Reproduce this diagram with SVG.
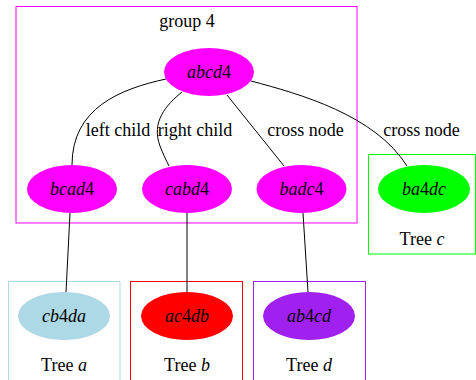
<svg xmlns="http://www.w3.org/2000/svg" width="476" height="380" viewBox="0 0 476 380">
<style>
text { font-family: "Liberation Serif", "Times New Roman", serif; font-size: 18px; fill: #000; text-anchor: middle; }
.i { font-style: italic; }
.cl { fill: none; stroke-width: 1; }
.edge { fill: none; stroke: #000; stroke-width: 1; }
</style>
<rect width="476" height="380" fill="#fff"/>

<!-- clusters -->
<g id="cluster_group4">
  <rect class="cl" x="16" y="6.5" width="341" height="216.5" stroke="#ff00ff"/>
  <text x="187" y="27">group 4</text>
</g>
<g id="cluster_treec">
  <rect class="cl" x="368.5" y="154.5" width="107" height="99.5" stroke="#00ff00"/>
  <text x="422" y="245">Tree <tspan class="i">c</tspan></text>
</g>
<g id="cluster_treea">
  <rect class="cl" x="8.5" y="281.5" width="111.5" height="110" stroke="#add8e6"/>
  <text x="64" y="371">Tree <tspan class="i">a</tspan></text>
</g>
<g id="cluster_treeb">
  <rect class="cl" x="130.5" y="281.5" width="112" height="110" stroke="#ff0000"/>
  <text x="187" y="371">Tree <tspan class="i">b</tspan></text>
</g>
<g id="cluster_treed">
  <rect class="cl" x="253.5" y="281.5" width="112" height="110" stroke="#a020f0"/>
  <text x="309" y="371">Tree <tspan class="i">d</tspan></text>
</g>

<!-- connectors -->
<g id="edges">
  <path class="edge" d="M166,79 C120,89 72,108 72,165"/>
  <path class="edge" d="M182,92 C166,105 151,122 160,146 C163,154 166,160 169,166"/>
  <path class="edge" d="M227,95 L284,166"/>
  <path class="edge" d="M251,81 C300,94 375,115 407,166"/>
  <path class="edge" d="M70,213 L66,292"/>
  <path class="edge" d="M187,213 L187,292"/>
  <path class="edge" d="M303,213 L308,292"/>
  <text x="118" y="136">left child</text>
  <text x="195" y="136">right child</text>
  <text x="305.5" y="136">cross node</text>
  <text x="421.5" y="136">cross node</text>
</g>

<!-- nodes -->
<g id="abcd4">
  <ellipse cx="209" cy="72" rx="45" ry="24" fill="#ff00ff"/>
  <text x="209" y="78"><tspan class="i">abcd</tspan>4</text>
</g>
<g id="bcad4">
  <ellipse cx="72" cy="189" rx="45" ry="24" fill="#ff00ff"/>
  <text x="72" y="195"><tspan class="i">bcad</tspan>4</text>
</g>
<g id="cabd4">
  <ellipse cx="187" cy="189" rx="45" ry="24" fill="#ff00ff"/>
  <text x="187" y="195"><tspan class="i">cabd</tspan>4</text>
</g>
<g id="badc4">
  <ellipse cx="301.5" cy="189" rx="45" ry="24" fill="#ff00ff"/>
  <text x="301.5" y="195"><tspan class="i">badc</tspan>4</text>
</g>
<g id="ba4dc">
  <ellipse cx="424" cy="189" rx="46" ry="24" fill="#00ff00"/>
  <text x="424" y="195"><tspan class="i">ba</tspan>4<tspan class="i">dc</tspan></text>
</g>
<g id="cb4da">
  <ellipse cx="64" cy="316" rx="46" ry="24" fill="#add8e6"/>
  <text x="64" y="322"><tspan class="i">cb</tspan>4<tspan class="i">da</tspan></text>
</g>
<g id="ac4db">
  <ellipse cx="187" cy="316" rx="46" ry="24" fill="#ff0000"/>
  <text x="187" y="322"><tspan class="i">ac</tspan>4<tspan class="i">db</tspan></text>
</g>
<g id="ab4cd">
  <ellipse cx="309" cy="316" rx="46" ry="24" fill="#a020f0"/>
  <text x="309" y="322"><tspan class="i">ab</tspan>4<tspan class="i">cd</tspan></text>
</g>
</svg>
